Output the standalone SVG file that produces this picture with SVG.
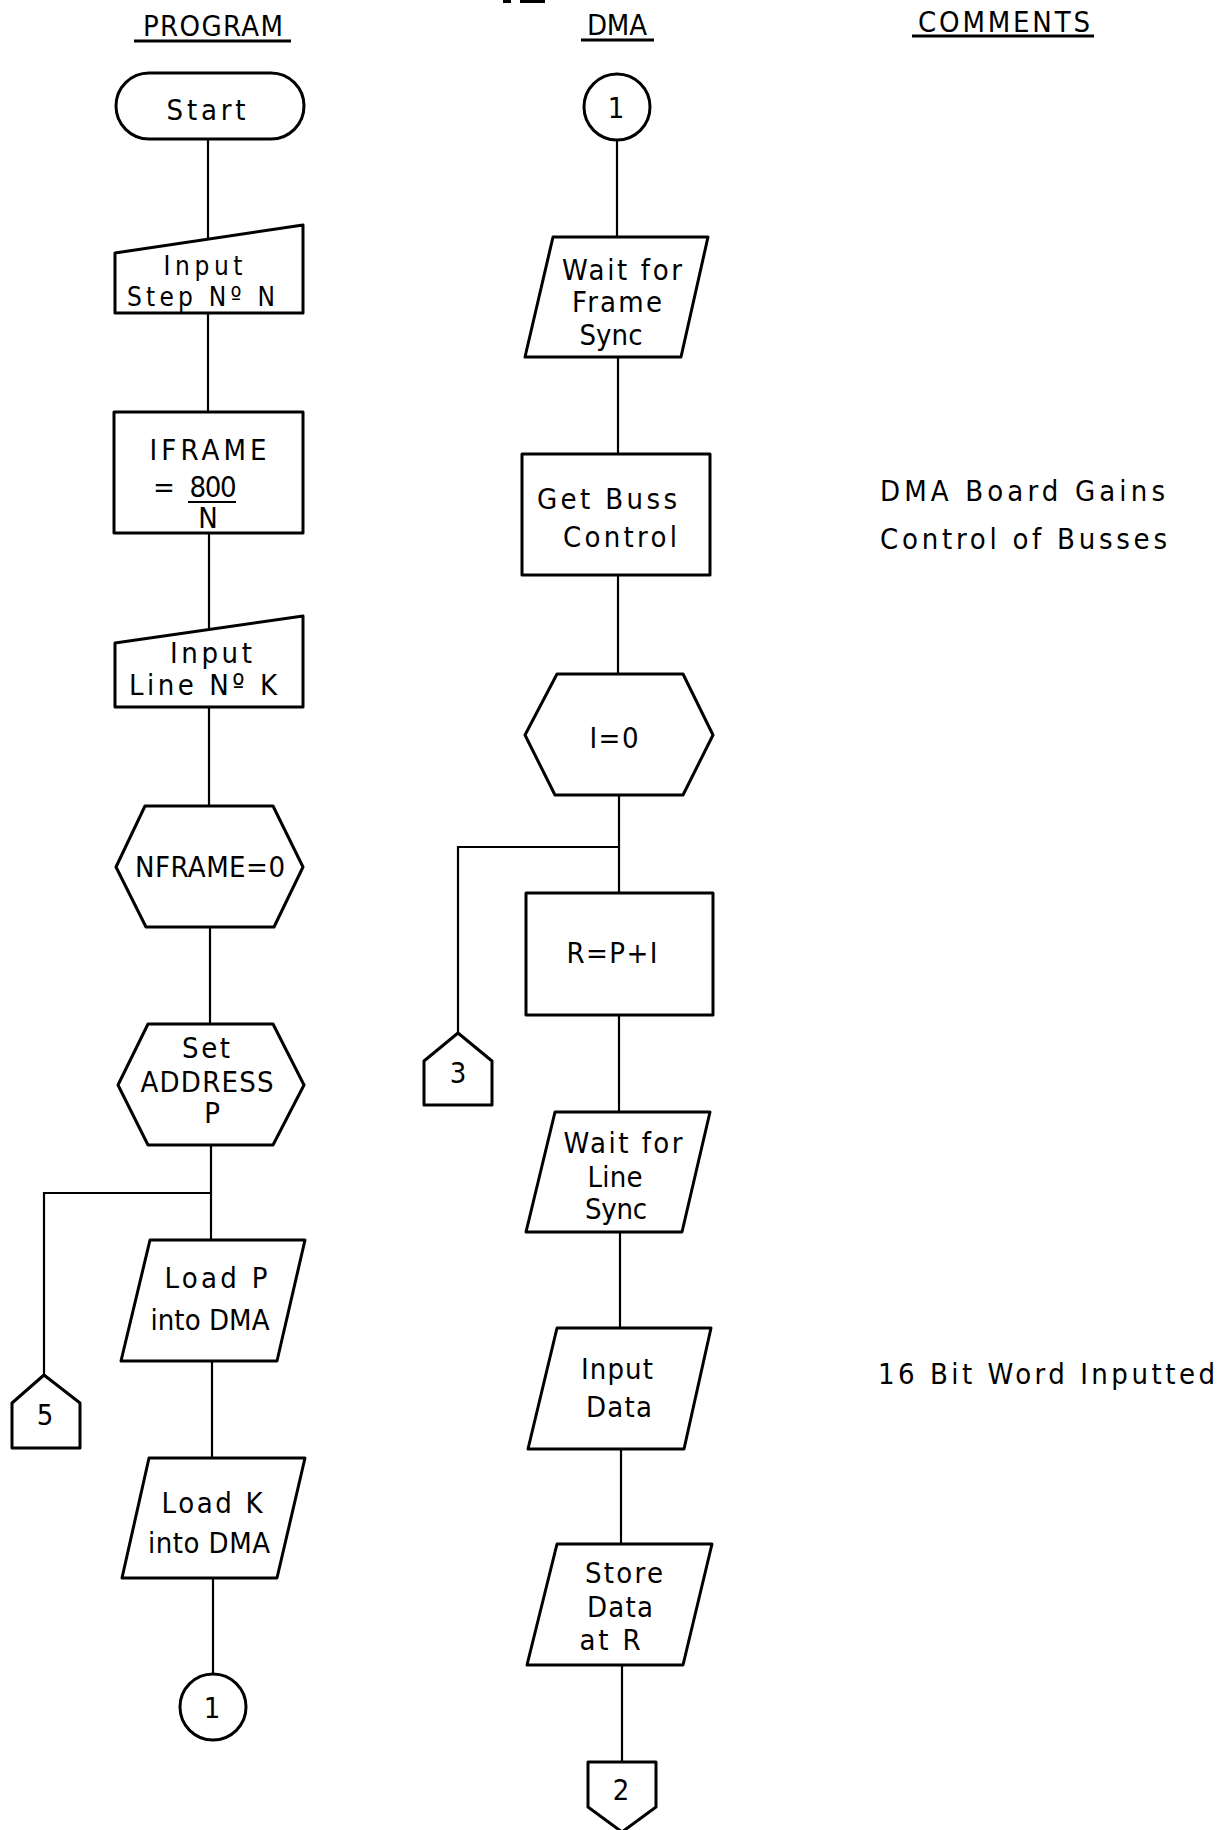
<svg xmlns="http://www.w3.org/2000/svg" width="1224" height="1830" viewBox="0 0 1224 1830">
  <style>
    .shape { fill: #fff; stroke: #000; stroke-width: 3; stroke-linejoin: round; }
    .wire { fill: none; stroke: #000; stroke-width: 2.2; }
    .rule { stroke: #000; stroke-width: 3; }
    text { font-family: "DejaVu Sans Condensed", "DejaVu Sans", "Liberation Sans", sans-serif; font-size: 29px; fill: #000; text-anchor: middle; }
    .tight { font-size: 26px; }
    .note { text-anchor: start; }
  </style>
  <rect width="1224" height="1830" fill="#fff"/>

  <!-- page number remnant at the top edge -->
  <path d="M503 1.5 H511 M520 1.5 H545" stroke="#000" stroke-width="3"/>

  <!-- column headings -->
  <g id="headings">
    <text x="213" y="36" textLength="140" lengthAdjust="spacing">PROGRAM</text>
    <line class="rule" x1="134" y1="41" x2="291" y2="41"/>
    <text x="617" y="35" textLength="60" lengthAdjust="spacing">DMA</text>
    <line class="rule" x1="581" y1="40" x2="654" y2="40"/>
    <text x="1004" y="32" textLength="172" lengthAdjust="spacing">COMMENTS</text>
    <line class="rule" x1="912" y1="36" x2="1094" y2="36"/>
  </g>

  <!-- connectors -->
  <g id="connectors">
    <path class="wire" d="M208 139 V240"/>
    <path class="wire" d="M208 313 V412"/>
    <path class="wire" d="M209 533 V630"/>
    <path class="wire" d="M209 707 V806"/>
    <path class="wire" d="M210 927 V1024"/>
    <path class="wire" d="M211 1145 V1240"/>
    <path class="wire" d="M211 1193 H44 V1375"/>
    <path class="wire" d="M212 1361 V1458"/>
    <path class="wire" d="M213 1578 V1674"/>
    <path class="wire" d="M617 140 V237"/>
    <path class="wire" d="M618 357 V454"/>
    <path class="wire" d="M618 575 V674"/>
    <path class="wire" d="M619 795 V893"/>
    <path class="wire" d="M619 847 H458 V1033"/>
    <path class="wire" d="M619 1015 V1112"/>
    <path class="wire" d="M620 1232 V1328"/>
    <path class="wire" d="M621 1449 V1544"/>
    <path class="wire" d="M622 1665 V1762"/>
  </g>

  <!-- PROGRAM column -->
  <g id="start">
    <rect class="shape" x="116" y="73" width="188" height="66" rx="33" ry="33"/>
    <text x="206" y="120" textLength="79" lengthAdjust="spacing">Start</text>
  </g>
  <g id="input-step">
    <polygon class="shape" points="115,253 303,225 303,313 115,313"/>
    <text class="tight" x="203" y="275" textLength="79" lengthAdjust="spacing">Input</text>
    <text class="tight" x="201" y="306" textLength="148" lengthAdjust="spacing">Step Nº N</text>
  </g>
  <g id="iframe">
    <rect class="shape" x="114" y="412" width="189" height="121"/>
    <text x="208" y="460" textLength="117" lengthAdjust="spacing">IFRAME</text>
    <text x="164" y="497">=</text>
    <text x="213" y="497" textLength="47" lengthAdjust="spacing">800</text>
    <line class="wire" x1="188" y1="502" x2="236" y2="502"/>
    <text x="208" y="528">N</text>
  </g>
  <g id="input-line">
    <polygon class="shape" points="115,643 303,616 303,707 115,707"/>
    <text x="211" y="663" textLength="82" lengthAdjust="spacing">Input</text>
    <text x="203" y="695" textLength="148" lengthAdjust="spacing">Line Nº K</text>
  </g>
  <g id="nframe">
    <polygon class="shape" points="145,806 273,806 303,867 274,927 146,927 116,867"/>
    <text x="210" y="877" textLength="150" lengthAdjust="spacing">NFRAME=0</text>
  </g>
  <g id="set-address">
    <polygon class="shape" points="148,1024 273,1024 304,1085 273,1145 148,1145 118,1085"/>
    <text x="206" y="1058" textLength="48" lengthAdjust="spacing">Set</text>
    <text x="207" y="1092" textLength="133" lengthAdjust="spacing">ADDRESS</text>
    <text x="212" y="1123">P</text>
  </g>
  <g id="offpage-5">
    <polygon class="shape" points="44,1375 80,1403 80,1448 12,1448 12,1403"/>
    <text x="45" y="1425">5</text>
  </g>
  <g id="load-p">
    <polygon class="shape" points="150,1240 305,1240 277,1361 121,1361"/>
    <text x="216" y="1288" textLength="103" lengthAdjust="spacing">Load P</text>
    <text x="210" y="1330" textLength="119" lengthAdjust="spacing">into DMA</text>
  </g>
  <g id="load-k">
    <polygon class="shape" points="149,1458 305,1458 277,1578 122,1578"/>
    <text x="212" y="1513" textLength="101" lengthAdjust="spacing">Load K</text>
    <text x="209" y="1553" textLength="122" lengthAdjust="spacing">into DMA</text>
  </g>
  <g id="connector-1-out">
    <circle class="shape" cx="213" cy="1707" r="33"/>
    <text x="212" y="1718">1</text>
  </g>

  <!-- DMA column -->
  <g id="connector-1-in">
    <circle class="shape" cx="617" cy="107" r="33"/>
    <text x="616" y="118">1</text>
  </g>
  <g id="wait-frame">
    <polygon class="shape" points="553,237 708,237 681,357 525,357"/>
    <text x="622" y="280" textLength="120" lengthAdjust="spacing">Wait for</text>
    <text x="617" y="312" textLength="90" lengthAdjust="spacing">Frame</text>
    <text x="611" y="345" textLength="63" lengthAdjust="spacing">Sync</text>
  </g>
  <g id="get-buss">
    <rect class="shape" x="522" y="454" width="188" height="121"/>
    <text class="note" x="537" y="509" textLength="140" lengthAdjust="spacing">Get Buss</text>
    <text class="note" x="563" y="547" textLength="114" lengthAdjust="spacing">Control</text>
  </g>
  <g id="i-zero">
    <polygon class="shape" points="557,674 683,674 713,735 683,795 555,795 525,735"/>
    <text x="614" y="748" textLength="49" lengthAdjust="spacing">I=0</text>
  </g>
  <g id="offpage-3">
    <polygon class="shape" points="458,1033 492,1061 492,1105 424,1105 424,1061"/>
    <text x="458" y="1083">3</text>
  </g>
  <g id="r-calc">
    <rect class="shape" x="526" y="893" width="187" height="122"/>
    <text x="612" y="963" textLength="91" lengthAdjust="spacing">R=P+I</text>
  </g>
  <g id="wait-line">
    <polygon class="shape" points="555,1112 710,1112 682,1232 526,1232"/>
    <text x="623" y="1153" textLength="119" lengthAdjust="spacing">Wait for</text>
    <text x="615" y="1187" textLength="55" lengthAdjust="spacing">Line</text>
    <text x="616" y="1219" textLength="62" lengthAdjust="spacing">Sync</text>
  </g>
  <g id="input-data">
    <polygon class="shape" points="557,1328 711,1328 684,1449 528,1449"/>
    <text x="617" y="1379" textLength="72" lengthAdjust="spacing">Input</text>
    <text x="619" y="1417" textLength="66" lengthAdjust="spacing">Data</text>
  </g>
  <g id="store-data">
    <polygon class="shape" points="557,1544 712,1544 683,1665 527,1665"/>
    <text x="624" y="1583" textLength="78" lengthAdjust="spacing">Store</text>
    <text x="620" y="1617" textLength="66" lengthAdjust="spacing">Data</text>
    <text x="610" y="1650" textLength="61" lengthAdjust="spacing">at R</text>
  </g>
  <g id="offpage-2">
    <polygon class="shape" points="588,1762 656,1762 656,1807 622,1832 588,1807"/>
    <text x="621" y="1800">2</text>
  </g>

  <!-- COMMENTS column -->
  <g id="comments">
    <text class="note" x="880" y="501" textLength="285" lengthAdjust="spacing">DMA Board Gains</text>
    <text class="note" x="880" y="549" textLength="287" lengthAdjust="spacing">Control of Busses</text>
    <text class="note" x="878" y="1384" textLength="337" lengthAdjust="spacing">16 Bit Word Inputted</text>
  </g>
</svg>
